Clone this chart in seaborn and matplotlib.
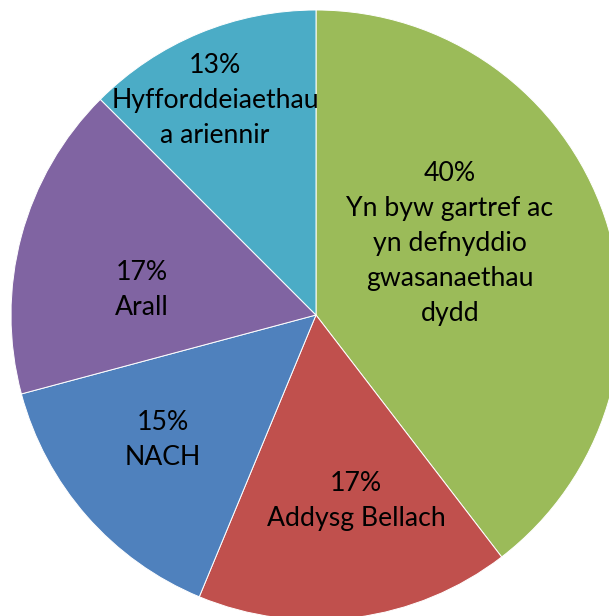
import matplotlib
matplotlib.use("Agg")
import matplotlib.pyplot as plt
import seaborn as sns

categories = ["Yn byw gartref ac\nyn defnyddio\ngwasanaethau\ndydd",
              "Addysg Bellach", "NACH", "Arall",
              "Hyfforddeiaethau\na ariennir"]
values = [19, 8, 7, 8, 6]
pct_labels = ["40%", "17%", "15%", "17%", "13%"]
colors = ["#9BBB59", "#C0504D", "#4F81BD", "#8064A2", "#4BACC6"]

sns.set_theme(style="white")
plt.rcParams['font.family'] = ['Lato', 'DejaVu Sans']

fig = plt.figure(figsize=(6.09, 6.16), dpi=100)
ax = fig.add_axes([0, 0, 1, 1])
palette = sns.color_palette(colors)

labels = [f"{p}\n{c}" for p, c in zip(pct_labels, categories)]
wedges, texts = ax.pie(values, colors=palette, startangle=90, counterclock=False,
                       radius=1.0, center=(0, 0), labels=labels, labeldistance=0.5,
                       wedgeprops=dict(edgecolor="white", linewidth=0.7),
                       textprops=dict(fontsize=19.2, color="black", linespacing=1.5))

# label placement (radius units), approximating the reference's best-fit layout
label_pos = [(0.439, 0.236), (0.131, -0.610), (-0.502, -0.410),
             (-0.570, 0.082), (-0.331, 0.702)]
for t, pos in zip(texts, label_pos):
    t.set_position(pos)
    t.set_ha("center")
    t.set_va("center")
    t.set_multialignment("center")

ax.set_xlim(-316 / 305, (609 - 316) / 305)
ax.set_ylim((315 - 616) / 305, 315 / 305)
ax.set_aspect("auto")
ax.axis("off")

fig.savefig("out.png", dpi=100, facecolor="white")
